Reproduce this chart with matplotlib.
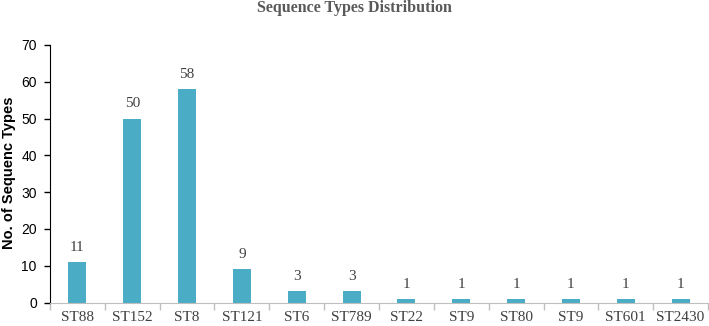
import numpy as np
import matplotlib.pyplot as plt
from matplotlib.ticker import FixedLocator

categories = ['ST88', 'ST152', 'ST8', 'ST121', 'ST6', 'ST789',
              'ST22', 'ST9', 'ST80', 'ST9', 'ST601', 'ST2430']
counts = [11, 50, 58, 9, 3, 3, 1, 1, 1, 1, 1, 1]

bar_color = '#4BACC6'
serif = ['Liberation Serif', 'DejaVu Serif']
sans = ['Liberation Sans', 'DejaVu Sans']

fig = plt.figure(figsize=(7.09, 3.26), dpi=100)
ax = fig.add_axes([50 / 709, 1 - 302.5 / 326, 658 / 709, 257.5 / 326])

x = np.arange(len(categories))
bars = ax.bar(x, counts, width=0.33, color=bar_color)

for b, v in zip(bars, counts):
    ax.text(b.get_x() + b.get_width() / 2, v + 2.2, str(v), ha='center', va='bottom',
            fontsize=11, family=serif, color='#404040')

ax.set_xlim(-0.5, len(categories) - 0.5)
ax.set_ylim(0, 70)
ax.set_yticks(range(0, 71, 10))
ax.set_xticks(x)
ax.set_xticklabels(categories, family=serif, fontsize=11, color='#404040')
ax.xaxis.set_minor_locator(FixedLocator(np.arange(-0.5, len(categories), 1.0)))
ax.tick_params(axis='x', which='major', length=0, pad=6)
ax.tick_params(axis='x', which='minor', length=5, color='#bfbfbf', width=1)
ax.tick_params(axis='y', length=4.5, color='black', width=1, labelsize=10, pad=5)
for lab in ax.get_yticklabels():
    lab.set_family(sans)

for s in ['top', 'right']:
    ax.spines[s].set_visible(False)
ax.spines['bottom'].set_color('#bfbfbf')
ax.spines['left'].set_color('black')

fig.text(9 / 709, 1 - 173 / 326, 'No. of Sequenc Types', rotation=90, ha='center', va='center',
         family=sans, fontweight='bold', fontsize=10.5)
fig.text(0.5, 1 - 8 / 326, 'Sequence Types Distribution', ha='center', va='center',
         family=serif, fontweight='bold', fontsize=11.5, color='#595959')

fig.savefig('out.png', dpi=100)
